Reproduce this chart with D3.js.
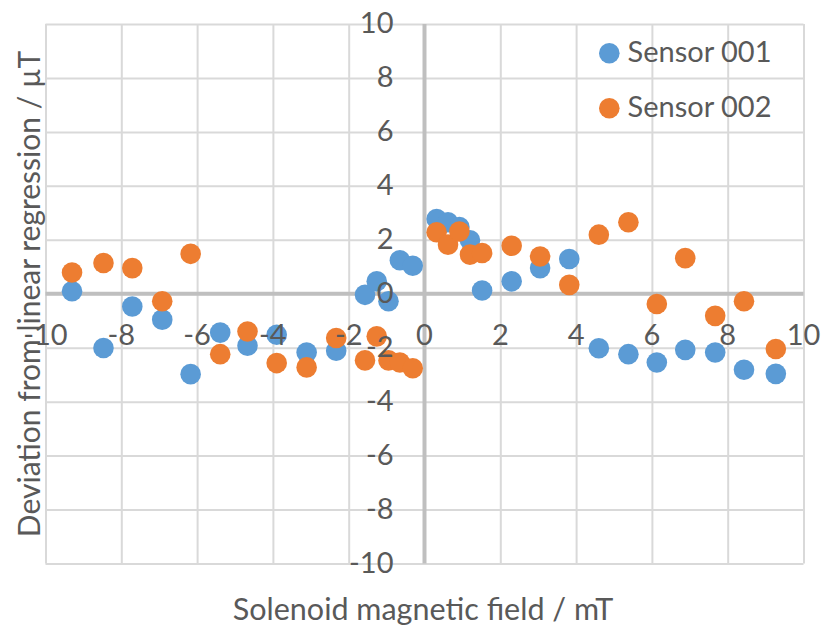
<!DOCTYPE html>
<html>
<head>
<meta charset="utf-8">
<script src="https://cdn.jsdelivr.net/npm/d3@7"></script>
<style>
  html, body { margin: 0; padding: 0; background: #fff; }
  svg { display: block; }
  text { font-family: Lato, "Open Sans", sans-serif; fill: #595959; }
</style>
</head>
<body>
<svg id="chart" width="821" height="626"></svg>
<script>
// ---- data ----
const fieldMT = [-9.3, -8.47, -7.71, -6.92, -6.17, -5.39, -4.67, -3.9, -3.11, -2.33, -1.57, -1.26, -0.95, -0.65, -0.31,
                 0.32, 0.62, 0.92, 1.2, 1.52, 2.3, 3.05, 3.82, 4.6, 5.38, 6.13, 6.88, 7.67, 8.43, 9.27];
const sensor001 = [0.09, -2.01, -0.47, -0.96, -2.98, -1.44, -1.93, -1.52, -2.18, -2.11, -0.04, 0.46, -0.28, 1.24, 1.04,
                   2.77, 2.65, 2.47, 1.98, 0.12, 0.46, 0.95, 1.29, -2.02, -2.24, -2.55, -2.08, -2.18, -2.82, -2.97];
const sensor002 = [0.79, 1.14, 0.95, -0.28, 1.48, -2.24, -1.40, -2.57, -2.73, -1.64, -2.47, -1.58, -2.47, -2.55, -2.76,
                   2.28, 1.82, 2.31, 1.45, 1.51, 1.78, 1.38, 0.33, 2.19, 2.65, -0.38, 1.32, -0.82, -0.28, -2.05];
const seriesNames = ["Sensor 001", "Sensor 002"];
const xTicks = [-10, -8, -6, -4, -2, 0, 2, 4, 6, 8, 10];
const yTicks = [-10, -8, -6, -4, -2, 0, 2, 4, 6, 8, 10];
const xTitle = "Solenoid magnetic field / mT";
const yTitle = "Deviation from linear regression / µT";

const colors = ["#5B9BD5", "#ED7D31"];

const svg = d3.select("#chart");
const x = d3.scaleLinear().domain([-10, 10]).range([45.5, 803.5]);
const y = d3.scaleLinear().domain([-10, 10]).range([563.5, 24]);

// gridlines via axes
const gx = svg.append("g").attr("transform", `translate(0,${y(-10)})`)
  .call(d3.axisBottom(x).tickValues(xTicks).tickSize(-(y(-10) - y(10))).tickFormat(""));
const gy = svg.append("g").attr("transform", `translate(${x(-10)},0)`)
  .call(d3.axisLeft(y).tickValues(yTicks).tickSize(-(x(10) - x(-10))).tickFormat(""));
[gx, gy].forEach(g => {
  g.select(".domain").remove();
  g.selectAll(".tick line").attr("stroke", "#D9D9D9").attr("stroke-width", 2);
});

// zero axes
svg.append("line").attr("x1", x(-10)).attr("x2", x(10)).attr("y1", y(0)).attr("y2", y(0))
  .attr("stroke", "#BFBFBF").attr("stroke-width", 4);
svg.append("line").attr("x1", x(0)).attr("x2", x(0)).attr("y1", y(-10)).attr("y2", y(10))
  .attr("stroke", "#BFBFBF").attr("stroke-width", 4);

// points
const series = [sensor001, sensor002];
series.forEach((vals, si) => {
  svg.append("g").selectAll("circle").data(vals).join("circle")
    .attr("cx", (d, i) => x(fieldMT[i]))
    .attr("cy", d => y(d))
    .attr("r", 10.3)
    .attr("fill", colors[si]);
});

// tick labels
svg.append("g").selectAll("text").data(yTicks).join("text")
  .attr("x", x(0) - 31).attr("y", d => y(d) + 9)
  .attr("text-anchor", "end").attr("font-size", 29).text(d => d);
svg.append("g").selectAll("text").data(xTicks).join("text")
  .attr("x", d => x(d)).attr("y", y(0) + 51)
  .attr("text-anchor", "middle").attr("font-size", 29).text(d => d);

// axis titles
svg.append("text").attr("x", 423).attr("y", 620).attr("text-anchor", "middle")
  .attr("font-size", 30.5).text(xTitle);
svg.append("text").attr("transform", `translate(40,294) rotate(-90)`).attr("text-anchor", "middle")
  .attr("font-size", 30).text(yTitle);

// legend
const leg = svg.append("g");
seriesNames.forEach((name, i) => {
  const cy = 53.3 + i * 55;
  leg.append("circle").attr("cx", 609.3).attr("cy", cy).attr("r", 10.3).attr("fill", colors[i]);
  leg.append("text").attr("x", 627.5).attr("y", cy + 8.5).attr("font-size", 29).text(name);
});
</script>
</body>
</html>
